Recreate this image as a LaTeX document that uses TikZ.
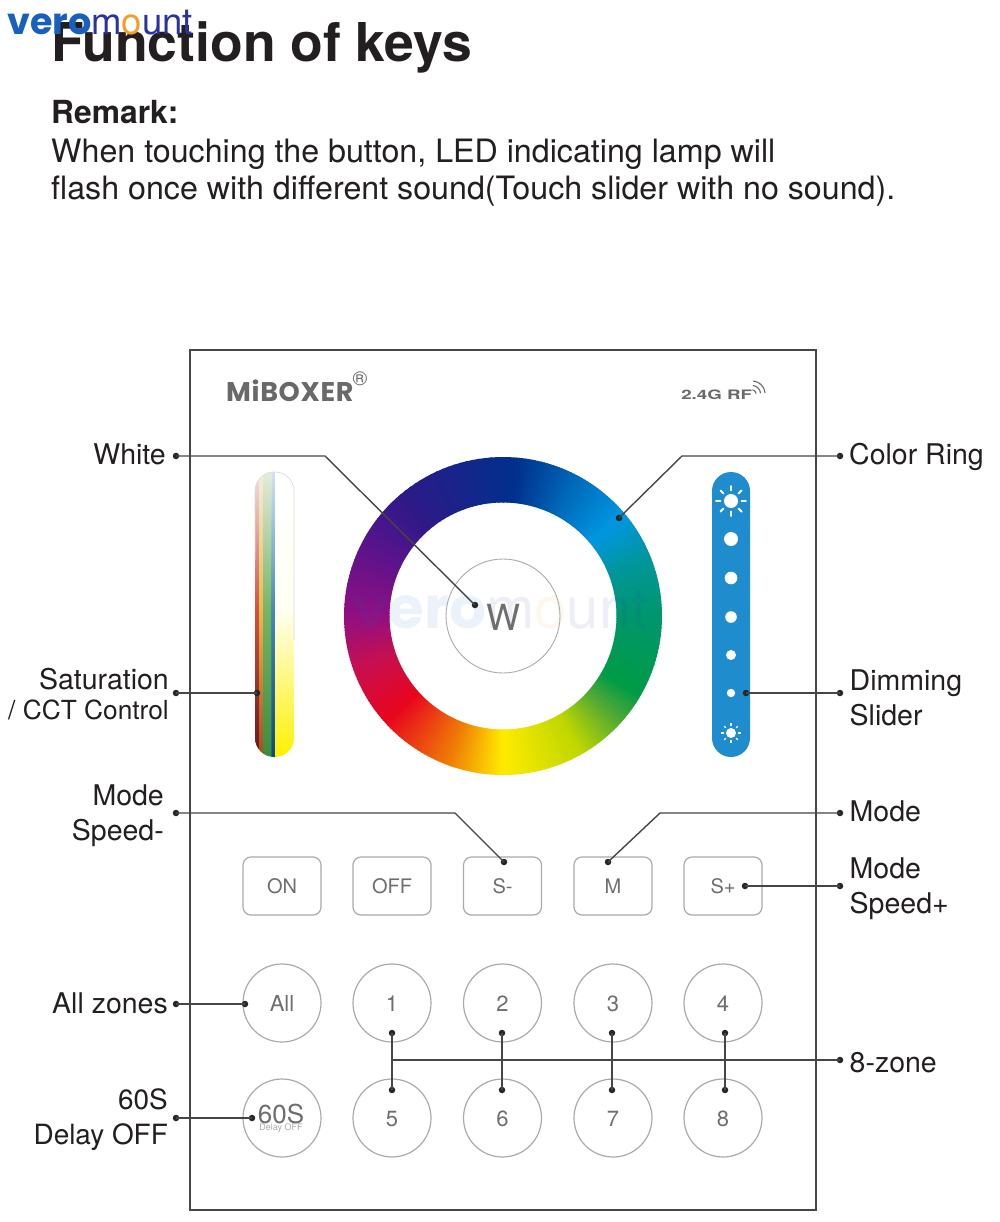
\documentclass[tikz,border=0pt]{standalone}
\usepackage{fontspec}
\setmainfont{TeX Gyre Heros}
\newfontfamily\logofont[LetterSpace=2.5]{Poppins}
\newfontfamily\wmbold{Poppins}
\usetikzlibrary{calc}
\definecolor{lineG}{RGB}{70,70,70}
\definecolor{keyG}{RGB}{170,170,170}
\definecolor{keyT}{RGB}{110,110,110}
\definecolor{inkT}{RGB}{35,31,32}
\definecolor{sliderB}{RGB}{30,140,205}
\definecolor{logoG}{RGB}{105,105,105}
\definecolor{vB}{RGB}{25,95,190}
\definecolor{vD}{RGB}{40,50,160}
\definecolor{vO}{RGB}{240,160,40}
\definecolor{h1}{RGB}{0,48,140}\definecolor{h2}{RGB}{45,25,135}\definecolor{h3}{RGB}{85,20,140}
\definecolor{h4}{RGB}{145,15,130}\definecolor{h5}{RGB}{200,15,80}\definecolor{h6}{RGB}{232,5,30}
\definecolor{h7}{RGB}{240,125,5}\definecolor{h8}{RGB}{255,235,0}\definecolor{h9}{RGB}{190,215,0}
\definecolor{h10}{RGB}{80,170,50}\definecolor{h11}{RGB}{0,155,70}\definecolor{h12}{RGB}{0,150,110}
\definecolor{h13}{RGB}{0,150,150}\definecolor{h14}{RGB}{0,150,225}\definecolor{h15}{RGB}{0,105,185}
\tikzset{
 x=1pt,y=-1pt,
 panel/.style={draw=lineG,line width=1.5pt},
 lead/.style={draw=lineG,line width=1.4pt},
 tip/.style={circle,fill=black!85,inner sep=0pt,minimum size=6.5pt},
 rkey/.style={draw=keyG,line width=1.2pt,rounded corners=8pt,minimum width=78pt,minimum height=58pt,inner sep=0pt,text=keyT,text height=15.5pt,font=\fontsize{20}{20}\selectfont},
 ckey/.style={draw=keyG,line width=1.2pt,circle,minimum size=78pt,inner sep=0pt,text=keyT,text height=17.5pt,font=\fontsize{22}{22}\selectfont},
 lab/.style={text=inkT,inner sep=0pt,font=\fontsize{28.5}{35}\selectfont},
 labr/.style={lab,anchor=east,align=right},
 labl/.style={lab,anchor=west,align=left},
}
\newcommand{\ringfan}[4]{% from angle #1 to #2, colour #3 to #4
 \foreach \k in {0,...,19}{
  \pgfmathsetmacro{\aa}{#1+(#2-#1)*\k/20}
  \pgfmathsetmacro{\ab}{#1+(#2-#1)*(\k+1.3)/20}
  \pgfmathsetmacro{\mx}{\k*5+2.5}
  \fill[color={#4!\mx!#3}] ({503+159*cos(\aa)},{616-159*sin(\aa)}) -- ({503+159*cos(\ab)},{616-159*sin(\ab)})
     -- ({503+113.5*cos(\ab)},{616-113.5*sin(\ab)}) -- ({503+113.5*cos(\aa)},{616-113.5*sin(\aa)}) -- cycle;
 }}
\newcommand{\sunrays}[4]{% centre x,y; disc radius; ray length end
 \foreach \t in {0,45,...,315}
  \draw[white,line width=#3*0.26pt,line cap=round] ({#1+#3*1.5*cos(\t)},{#2+#3*1.5*sin(\t)}) -- ({#1+#4*cos(\t)},{#2+#4*sin(\t)});
 \fill[white] (#1,#2) circle[radius=#3];}
\newcommand{\stripe}[5]{%
 \shade[top color=#3,bottom color=#4] (#1,472) rectangle (#2,610.5);
 \shade[top color=#4,bottom color=#5] (#1,610) rectangle (#2,757);}
\newcommand{\wmark}{\textcolor{vB}{\wmbold\bfseries vero}\textcolor{vD}{m}\textcolor{vO}{o}\textcolor{vD}{unt}}
\begin{document}
\begin{tikzpicture}
\useasboundingbox (0,0) rectangle (1000,1222);
\fill[white] (0,0) rectangle (1000,1222);
% heading
\node[anchor=base west,inner sep=0pt,text=inkT,font=\fontsize{53.5}{53.5}\selectfont\bfseries] (title) at (51,62) {Function of keys};
\node[anchor=base west,inner sep=0pt,text=inkT,font=\fontsize{31.8}{32}\selectfont\bfseries] (remark) at (51,123.5) {Remark:};
\node[anchor=base west,inner sep=0pt,text=inkT,font=\fontsize{32.2}{32}\selectfont] (rem1) at (51,163) {When touching the button, LED indicating lamp will};
\node[anchor=base west,inner sep=0pt,text=inkT,font=\fontsize{32.2}{32}\selectfont] (rem2) at (51,200) {flash once with different sound(Touch slider with no sound).};
% watermark
\node[anchor=base west,inner sep=0pt,font=\fontsize{36.5}{36.5}\selectfont] (wm) at (7,35) {\wmark};
% panel
\draw[panel] (190,350) rectangle (816,1210);
\node[anchor=base west,inner sep=0pt,text=logoG,font=\logofont\fontsize{27}{27}\selectfont\bfseries] (logo) at (226,401) {MiBOXER};
\node[anchor=center,inner sep=0pt,text=logoG,font=\fontsize{20}{20}\selectfont] (reg) at (360,379) {®};
\node[anchor=base west,inner sep=0pt,text=logoG,xscale=1.44,font=\fontsize{13}{13}\selectfont\bfseries] (rf) at (681,399) {2.4G RF};
\foreach \r in {4,8.5,13}
  \draw[logoG,line width=1.1pt] plot[domain=-85:-5,samples=9] ({752+\r*cos(\x)},{394+\r*sin(\x)});
% colour ring
\ringfan{85}{130}{h1}{h2}\ringfan{130}{150}{h2}{h3}\ringfan{150}{180}{h3}{h4}\ringfan{180}{200}{h4}{h5}
\ringfan{200}{222}{h5}{h6}\ringfan{222}{250}{h6}{h7}\ringfan{250}{270}{h7}{h8}\ringfan{270}{300}{h8}{h9}
\ringfan{300}{318}{h9}{h10}\ringfan{318}{330}{h10}{h11}\ringfan{330}{360}{h11}{h12}\ringfan{0}{20}{h12}{h13}
\ringfan{20}{40}{h13}{h14}\ringfan{40}{62}{h14}{h15}\ringfan{62}{85}{h15}{h1}
\node[anchor=base,inner sep=0pt,font=\fontsize{58}{58}\selectfont,opacity=.08] (wm2) at (500,628) {\wmark};
\node[circle,draw=keyG,line width=.9pt,minimum size=114pt,inner sep=0pt] (wkey) at (503,616) {};
\node[anchor=center,inner sep=0pt,text=keyT,font=\fontsize{36}{36}\selectfont] (wtext) at (503,617) {W};
% saturation slider
\begin{scope}
 \clip[rounded corners=19pt] (255,472) rectangle (294,757);
 \stripe{255}{259.2}{{rgb,255:red,238;green,228;blue,226}}{{rgb,255:red,212;green,80;blue,60}}{{rgb,255:red,105;green,20;blue,30}}
 \stripe{259}{263.2}{{rgb,255:red,245;green,238;blue,222}}{{rgb,255:red,235;green,185;blue,75}}{{rgb,255:red,165;green,75;blue,30}}
 \stripe{263}{271.2}{{rgb,255:red,228;green,236;blue,220}}{{rgb,255:red,120;green,180;blue,100}}{{rgb,255:red,60;green,140;blue,60}}
 \stripe{271}{272.7}{{rgb,255:red,228;green,236;blue,236}}{{rgb,255:red,60;green,150;blue,150}}{{rgb,255:red,20;green,110;blue,110}}
 \stripe{272.5}{275}{{rgb,255:red,212;green,226;blue,240}}{{rgb,255:red,70;green,135;blue,190}}{{rgb,255:red,15;green,70;blue,130}}
 \stripe{275}{294}{white}{{rgb,255:red,255;green,255;blue,242}}{{rgb,255:red,255;green,240;blue,0}}
\end{scope}
\draw[black!14,line width=.7pt,rounded corners=19pt] (255,560) -- (255,472) -- (294,472) -- (294,640);
% dimming slider
\fill[sliderB,rounded corners=19pt] (712,472) rectangle (750,757);
\sunrays{731}{501}{7}{15}
\foreach \yy/\rr in {539/7,578/6.3,617/5.8,655/5,693/4.2} \fill[white] (731,\yy) circle[radius=\rr];
\sunrays{731}{733}{5}{9.5}
% rectangular keys
\node[rkey] (on) at (282,886) {ON};
\node[rkey] (off) at (392,886) {OFF};
\node[rkey] (sm) at (502.5,886) {S-};
\node[rkey] (m) at (613,886) {M};
\node[rkey] (sp) at (723,886) {S+};
% round keys
\node[ckey] (all) at (282,1003) {All};
\node[ckey] (k1) at (392,1003) {1};
\node[ckey] (k2) at (502.5,1003) {2};
\node[ckey] (k3) at (613,1003) {3};
\node[ckey] (k4) at (723,1003) {4};
\node[ckey] (delay) at (282,1118) {};
\node[anchor=center,inner sep=0pt,text=keyT,font=\fontsize{26}{26}\selectfont] (dtext) at (281,1114) {60S};
\node[anchor=center,inner sep=0pt,text=keyG,font=\fontsize{9}{9}\selectfont] (dsub) at (281,1128) {Delay OFF};
\node[ckey] (k5) at (392,1118) {5};
\node[ckey] (k6) at (502.5,1118) {6};
\node[ckey] (k7) at (613,1118) {7};
\node[ckey] (k8) at (723,1118) {8};
% labels
\node[labr] (lwhite) at (166,454) {White};
\node[labr,font=\fontsize{28.5}{30}\selectfont] (lsat) at (169,694) {Saturation\\{\fontsize{26.3}{30}\selectfont / CCT Control}};
\node[labr] (lspm) at (164,815.5) {Mode\\Speed-};
\node[labr] (lall) at (168,1003) {All zones};
\node[labr,font=\fontsize{27.9}{35}\selectfont] (ldel) at (168,1120) {60S\\Delay OFF};
\node[labl] (lring) at (849,456.5) {Color Ring};
\node[labl] (ldim) at (849.5,698) {Dimming\\Slider};
\node[labl] (lmode) at (849.5,811) {Mode};
\node[labl] (lspp) at (849.5,888.5) {Mode\\Speed+};
\node[labl] (lz) at (849.5,1063) {8-zone};
% anchors
\foreach \n/\x/\y in {aw/176/456,bw/475/605,ar/840/456,br/619/518,as/176/693,bs/257/693,ad/840/693,bd/746/693,
  am/176/813,bm/504/862,aq/840/813,bq/608/862,ap/840/886,bp/745/886,aa/176/1004,ba/245/1004,
  ao/176/1118,bo/252/1118,az/840/1060,t1/392/1033,t2/502/1033,t3/612/1033,t4/725/1033,u1/392/1090,u2/502/1090,u3/612/1090,u4/725/1090}
  \node[tip] (\n) at (\x,\y) {};
\coordinate (jw) at (325,456);\coordinate (jr) at (682,456);\coordinate (jm) at (455,813);\coordinate (jq) at (660,813);\coordinate (jz) at (392,1060);
% connectors
\draw[lead] (aw.center) -- (jw) -- (bw.center);
\draw[lead] (ar.center) -- (jr) -- (br.center);
\draw[lead] (as.center) -- (bs.center);
\draw[lead] (ad.center) -- (bd.center);
\draw[lead] (am.center) -- (jm) -- (bm.center);
\draw[lead] (aq.center) -- (jq) -- (bq.center);
\draw[lead] (ap.center) -- (bp.center);
\draw[lead] (aa.center) -- (ba.center);
\draw[lead] (ao.center) -- (bo.center);
\draw[lead] (az.center) -- (jz);
\draw[lead] (t1.center) -- (u1.center);
\draw[lead] (t2.center) -- (u2.center);
\draw[lead] (t3.center) -- (u3.center);
\draw[lead] (t4.center) -- (u4.center);
\end{tikzpicture}
\end{document}
